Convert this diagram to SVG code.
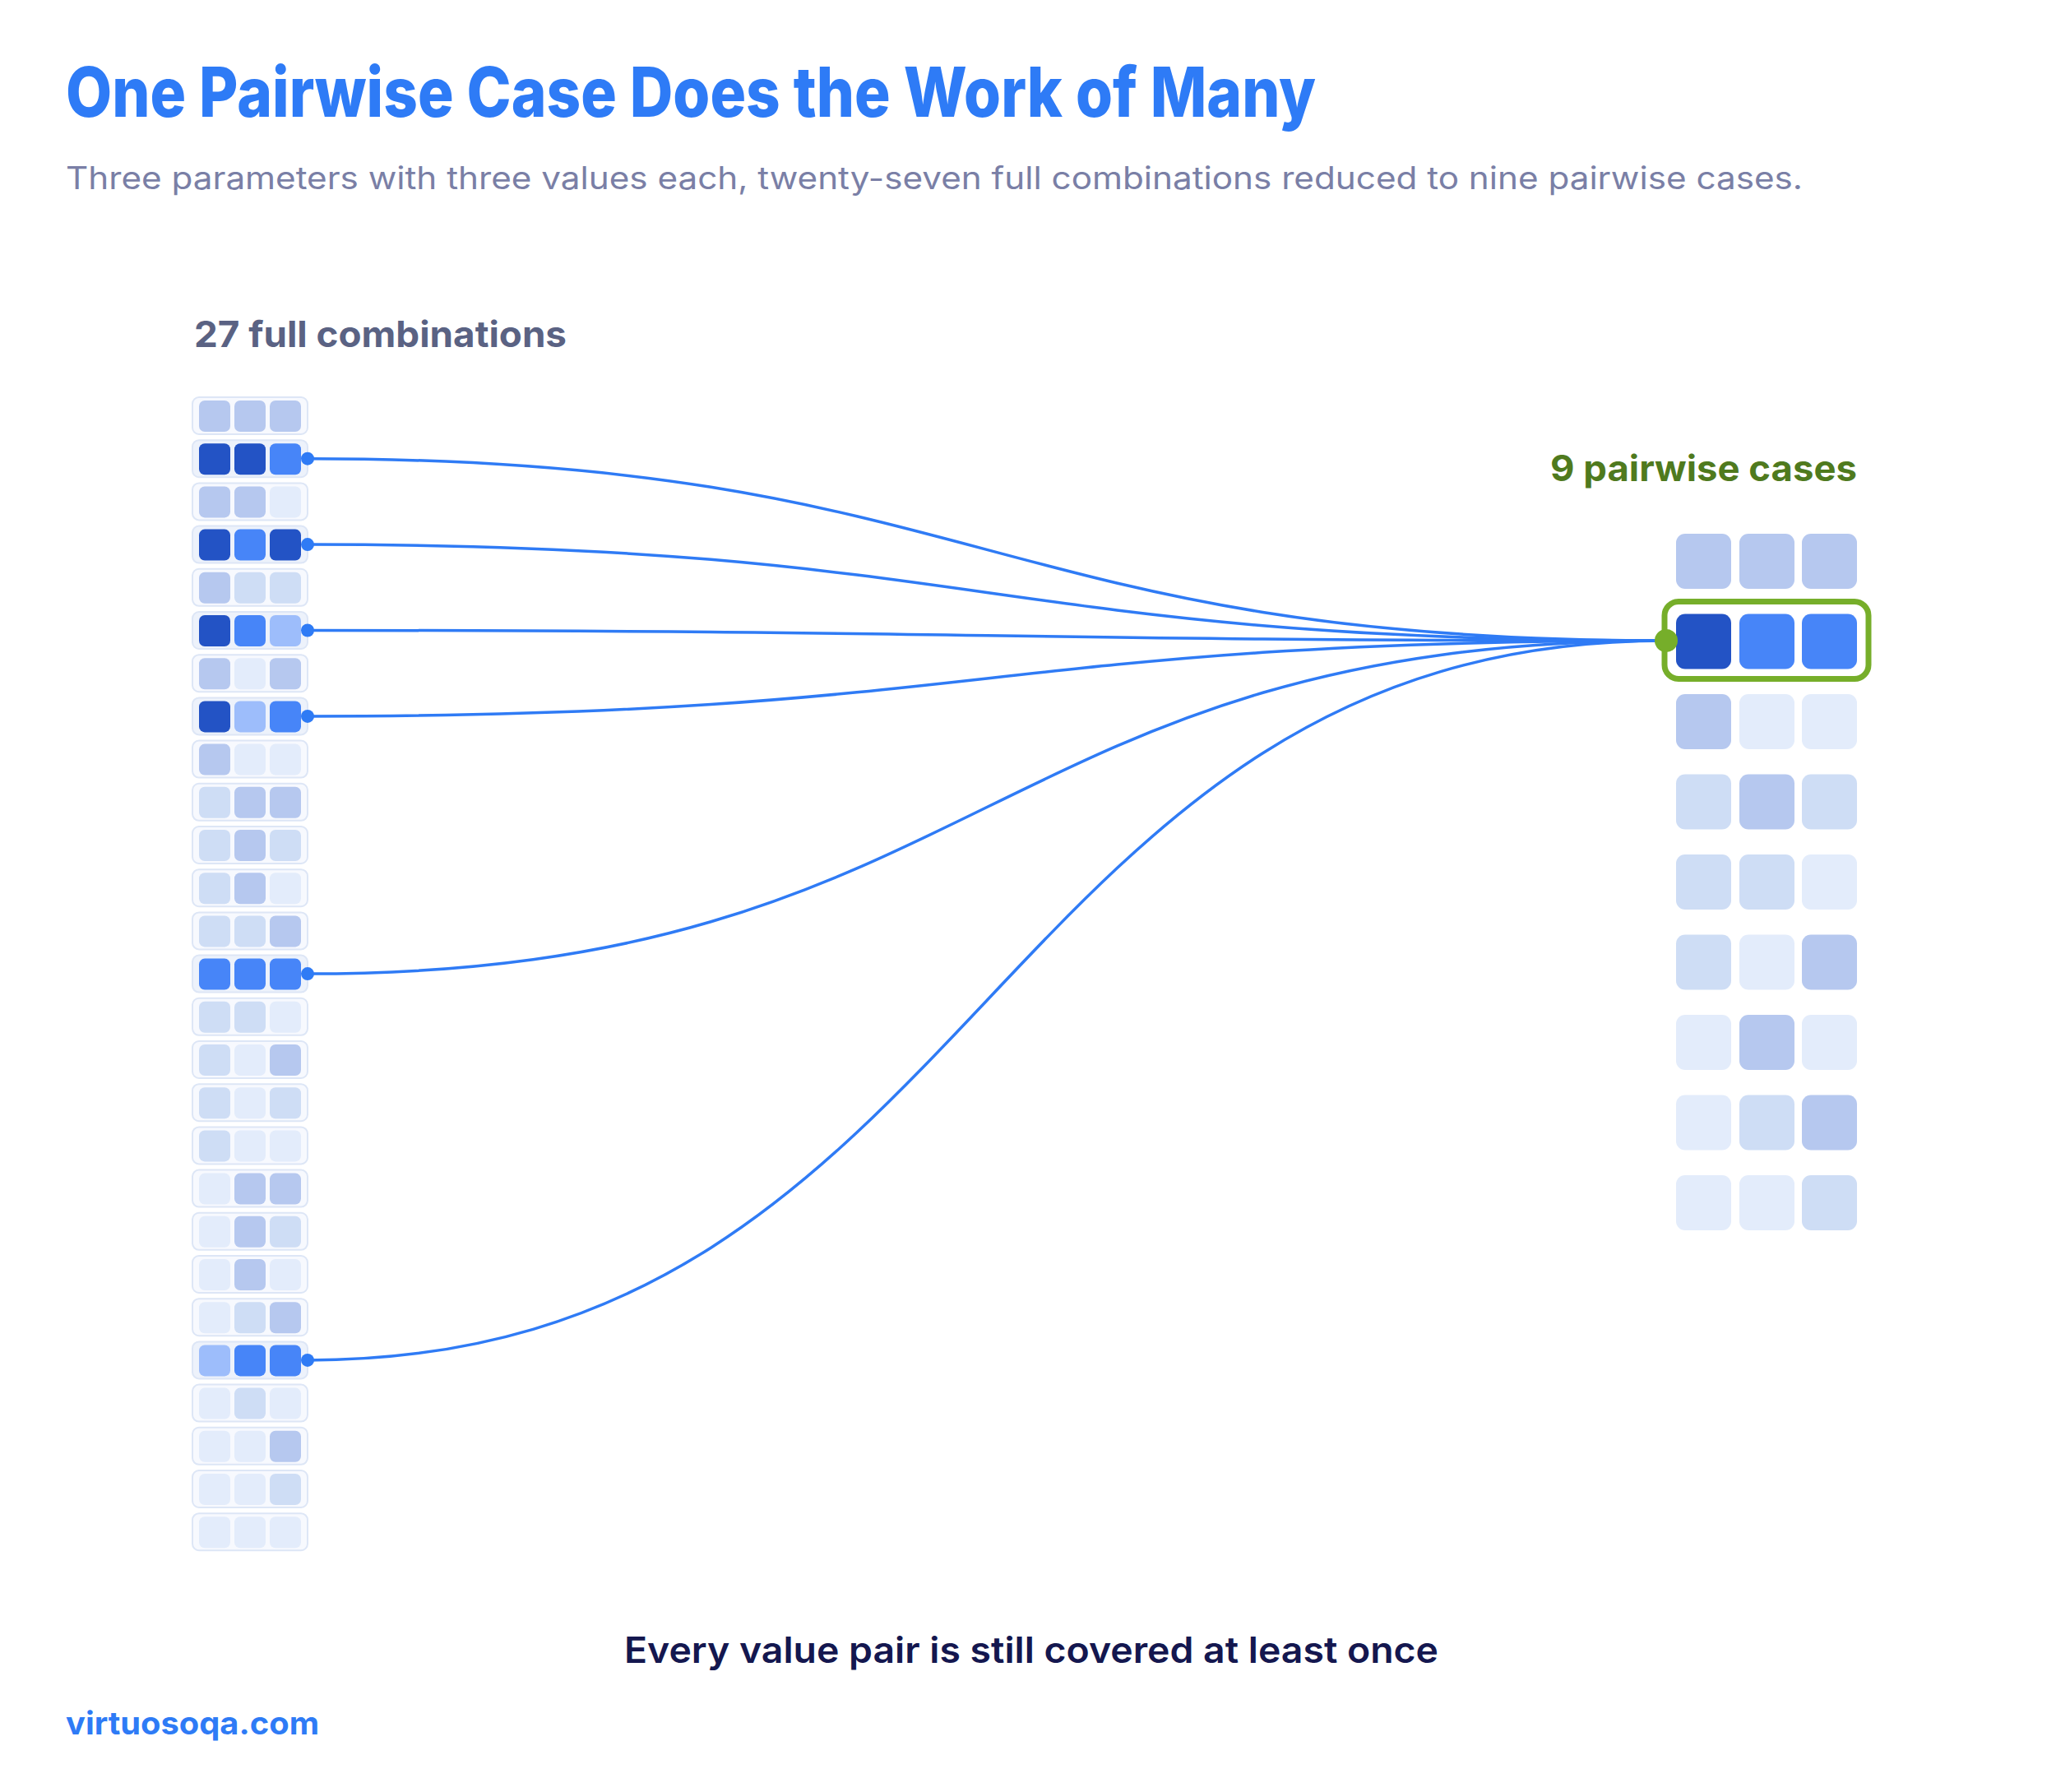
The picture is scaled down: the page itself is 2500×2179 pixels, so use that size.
<svg xmlns="http://www.w3.org/2000/svg" width="2500" height="2179" viewBox="0 0 2500 2179">
<style>
.t{font-family:Inter,"Liberation Sans",sans-serif}
.D{fill:#2353C5}.M{fill:#4785F8}.P{fill:#9DBDFB}.c3{fill:#B6C8EF}.c2{fill:#CEDDF5}.c1{fill:#E3ECFB}
.fr{fill:#F7F9FE;stroke:#DDE6F6;stroke-width:2}
.frh{fill:#EDF2FB;stroke:#DDE6F6;stroke-width:2}
.con{fill:none;stroke:#2F7BF5;stroke-width:3.5}
.dot{fill:#2F7BF5}
</style>
<rect width="2500" height="2179" fill="#fff"/>
<text class="t" x="80" y="142" font-size="84" font-weight="800" fill="#2E7BF6" textLength="1520" lengthAdjust="spacingAndGlyphs">One Pairwise Case Does the Work of Many</text>
<text class="t" x="80" y="230" font-size="38" fill="#7A7FA6" textLength="2112" lengthAdjust="spacingAndGlyphs">Three parameters with three values each, twenty-seven full combinations reduced to nine pairwise cases.</text>
<text class="t" x="236" y="422" font-size="44" font-weight="700" fill="#5A6283" textLength="453" lengthAdjust="spacingAndGlyphs">27 full combinations</text>
<text class="t" x="1885" y="585" font-size="44" font-weight="700" fill="#4F7A1E" textLength="373" lengthAdjust="spacingAndGlyphs">9 pairwise cases</text>
<g id="connectors">
<path class="con" d="M374,557.7 C1200,557.7 1200,779 2026,779"/>
<path class="con" d="M374,662.1 C1200,662.1 1200,779 2026,779"/>
<path class="con" d="M374,766.5 C1200,766.5 1200,779 2026,779"/>
<path class="con" d="M374,870.9 C1200,870.9 1200,779 2026,779"/>
<path class="con" d="M374,1184.1 C1200,1184.1 1200,779 2026,779"/>
<path class="con" d="M374,1653.9 C1200,1653.9 1200,779 2026,779"/>
</g>
<g id="full">
<g id="f1" transform="translate(0,0)"><rect class="fr" x="234" y="483" width="140" height="45" rx="8"/><rect class="c3" x="242" y="487" width="38" height="38" rx="7"/><rect class="c3" x="285" y="487" width="38" height="38" rx="7"/><rect class="c3" x="328" y="487" width="38" height="38" rx="7"/></g>
<g id="f2" transform="translate(0,52.2)"><rect class="frh" x="234" y="483" width="140" height="45" rx="8"/><rect class="D" x="242" y="487" width="38" height="38" rx="7"/><rect class="D" x="285" y="487" width="38" height="38" rx="7"/><rect class="M" x="328" y="487" width="38" height="38" rx="7"/><circle class="dot" cx="374" cy="505.5" r="8"/></g>
<g id="f3" transform="translate(0,104.4)"><rect class="fr" x="234" y="483" width="140" height="45" rx="8"/><rect class="c3" x="242" y="487" width="38" height="38" rx="7"/><rect class="c3" x="285" y="487" width="38" height="38" rx="7"/><rect class="c1" x="328" y="487" width="38" height="38" rx="7"/></g>
<g id="f4" transform="translate(0,156.6)"><rect class="frh" x="234" y="483" width="140" height="45" rx="8"/><rect class="D" x="242" y="487" width="38" height="38" rx="7"/><rect class="M" x="285" y="487" width="38" height="38" rx="7"/><rect class="D" x="328" y="487" width="38" height="38" rx="7"/><circle class="dot" cx="374" cy="505.5" r="8"/></g>
<g id="f5" transform="translate(0,208.8)"><rect class="fr" x="234" y="483" width="140" height="45" rx="8"/><rect class="c3" x="242" y="487" width="38" height="38" rx="7"/><rect class="c2" x="285" y="487" width="38" height="38" rx="7"/><rect class="c2" x="328" y="487" width="38" height="38" rx="7"/></g>
<g id="f6" transform="translate(0,261)"><rect class="frh" x="234" y="483" width="140" height="45" rx="8"/><rect class="D" x="242" y="487" width="38" height="38" rx="7"/><rect class="M" x="285" y="487" width="38" height="38" rx="7"/><rect class="P" x="328" y="487" width="38" height="38" rx="7"/><circle class="dot" cx="374" cy="505.5" r="8"/></g>
<g id="f7" transform="translate(0,313.2)"><rect class="fr" x="234" y="483" width="140" height="45" rx="8"/><rect class="c3" x="242" y="487" width="38" height="38" rx="7"/><rect class="c1" x="285" y="487" width="38" height="38" rx="7"/><rect class="c3" x="328" y="487" width="38" height="38" rx="7"/></g>
<g id="f8" transform="translate(0,365.4)"><rect class="frh" x="234" y="483" width="140" height="45" rx="8"/><rect class="D" x="242" y="487" width="38" height="38" rx="7"/><rect class="P" x="285" y="487" width="38" height="38" rx="7"/><rect class="M" x="328" y="487" width="38" height="38" rx="7"/><circle class="dot" cx="374" cy="505.5" r="8"/></g>
<g id="f9" transform="translate(0,417.6)"><rect class="fr" x="234" y="483" width="140" height="45" rx="8"/><rect class="c3" x="242" y="487" width="38" height="38" rx="7"/><rect class="c1" x="285" y="487" width="38" height="38" rx="7"/><rect class="c1" x="328" y="487" width="38" height="38" rx="7"/></g>
<g id="f10" transform="translate(0,469.8)"><rect class="fr" x="234" y="483" width="140" height="45" rx="8"/><rect class="c2" x="242" y="487" width="38" height="38" rx="7"/><rect class="c3" x="285" y="487" width="38" height="38" rx="7"/><rect class="c3" x="328" y="487" width="38" height="38" rx="7"/></g>
<g id="f11" transform="translate(0,522)"><rect class="fr" x="234" y="483" width="140" height="45" rx="8"/><rect class="c2" x="242" y="487" width="38" height="38" rx="7"/><rect class="c3" x="285" y="487" width="38" height="38" rx="7"/><rect class="c2" x="328" y="487" width="38" height="38" rx="7"/></g>
<g id="f12" transform="translate(0,574.2)"><rect class="fr" x="234" y="483" width="140" height="45" rx="8"/><rect class="c2" x="242" y="487" width="38" height="38" rx="7"/><rect class="c3" x="285" y="487" width="38" height="38" rx="7"/><rect class="c1" x="328" y="487" width="38" height="38" rx="7"/></g>
<g id="f13" transform="translate(0,626.4)"><rect class="fr" x="234" y="483" width="140" height="45" rx="8"/><rect class="c2" x="242" y="487" width="38" height="38" rx="7"/><rect class="c2" x="285" y="487" width="38" height="38" rx="7"/><rect class="c3" x="328" y="487" width="38" height="38" rx="7"/></g>
<g id="f14" transform="translate(0,678.6)"><rect class="frh" x="234" y="483" width="140" height="45" rx="8"/><rect class="M" x="242" y="487" width="38" height="38" rx="7"/><rect class="M" x="285" y="487" width="38" height="38" rx="7"/><rect class="M" x="328" y="487" width="38" height="38" rx="7"/><circle class="dot" cx="374" cy="505.5" r="8"/></g>
<g id="f15" transform="translate(0,730.8)"><rect class="fr" x="234" y="483" width="140" height="45" rx="8"/><rect class="c2" x="242" y="487" width="38" height="38" rx="7"/><rect class="c2" x="285" y="487" width="38" height="38" rx="7"/><rect class="c1" x="328" y="487" width="38" height="38" rx="7"/></g>
<g id="f16" transform="translate(0,783)"><rect class="fr" x="234" y="483" width="140" height="45" rx="8"/><rect class="c2" x="242" y="487" width="38" height="38" rx="7"/><rect class="c1" x="285" y="487" width="38" height="38" rx="7"/><rect class="c3" x="328" y="487" width="38" height="38" rx="7"/></g>
<g id="f17" transform="translate(0,835.2)"><rect class="fr" x="234" y="483" width="140" height="45" rx="8"/><rect class="c2" x="242" y="487" width="38" height="38" rx="7"/><rect class="c1" x="285" y="487" width="38" height="38" rx="7"/><rect class="c2" x="328" y="487" width="38" height="38" rx="7"/></g>
<g id="f18" transform="translate(0,887.4)"><rect class="fr" x="234" y="483" width="140" height="45" rx="8"/><rect class="c2" x="242" y="487" width="38" height="38" rx="7"/><rect class="c1" x="285" y="487" width="38" height="38" rx="7"/><rect class="c1" x="328" y="487" width="38" height="38" rx="7"/></g>
<g id="f19" transform="translate(0,939.6)"><rect class="fr" x="234" y="483" width="140" height="45" rx="8"/><rect class="c1" x="242" y="487" width="38" height="38" rx="7"/><rect class="c3" x="285" y="487" width="38" height="38" rx="7"/><rect class="c3" x="328" y="487" width="38" height="38" rx="7"/></g>
<g id="f20" transform="translate(0,991.8)"><rect class="fr" x="234" y="483" width="140" height="45" rx="8"/><rect class="c1" x="242" y="487" width="38" height="38" rx="7"/><rect class="c3" x="285" y="487" width="38" height="38" rx="7"/><rect class="c2" x="328" y="487" width="38" height="38" rx="7"/></g>
<g id="f21" transform="translate(0,1044)"><rect class="fr" x="234" y="483" width="140" height="45" rx="8"/><rect class="c1" x="242" y="487" width="38" height="38" rx="7"/><rect class="c3" x="285" y="487" width="38" height="38" rx="7"/><rect class="c1" x="328" y="487" width="38" height="38" rx="7"/></g>
<g id="f22" transform="translate(0,1096.2)"><rect class="fr" x="234" y="483" width="140" height="45" rx="8"/><rect class="c1" x="242" y="487" width="38" height="38" rx="7"/><rect class="c2" x="285" y="487" width="38" height="38" rx="7"/><rect class="c3" x="328" y="487" width="38" height="38" rx="7"/></g>
<g id="f23" transform="translate(0,1148.4)"><rect class="frh" x="234" y="483" width="140" height="45" rx="8"/><rect class="P" x="242" y="487" width="38" height="38" rx="7"/><rect class="M" x="285" y="487" width="38" height="38" rx="7"/><rect class="M" x="328" y="487" width="38" height="38" rx="7"/><circle class="dot" cx="374" cy="505.5" r="8"/></g>
<g id="f24" transform="translate(0,1200.6)"><rect class="fr" x="234" y="483" width="140" height="45" rx="8"/><rect class="c1" x="242" y="487" width="38" height="38" rx="7"/><rect class="c2" x="285" y="487" width="38" height="38" rx="7"/><rect class="c1" x="328" y="487" width="38" height="38" rx="7"/></g>
<g id="f25" transform="translate(0,1252.8)"><rect class="fr" x="234" y="483" width="140" height="45" rx="8"/><rect class="c1" x="242" y="487" width="38" height="38" rx="7"/><rect class="c1" x="285" y="487" width="38" height="38" rx="7"/><rect class="c3" x="328" y="487" width="38" height="38" rx="7"/></g>
<g id="f26" transform="translate(0,1305)"><rect class="fr" x="234" y="483" width="140" height="45" rx="8"/><rect class="c1" x="242" y="487" width="38" height="38" rx="7"/><rect class="c1" x="285" y="487" width="38" height="38" rx="7"/><rect class="c2" x="328" y="487" width="38" height="38" rx="7"/></g>
<g id="f27" transform="translate(0,1357.2)"><rect class="fr" x="234" y="483" width="140" height="45" rx="8"/><rect class="c1" x="242" y="487" width="38" height="38" rx="7"/><rect class="c1" x="285" y="487" width="38" height="38" rx="7"/><rect class="c1" x="328" y="487" width="38" height="38" rx="7"/></g>
</g>
<g id="pairwise">
<g id="p1" transform="translate(0,0)"><rect class="c3" x="2038" y="649" width="67" height="67" rx="11"/><rect class="c3" x="2115" y="649" width="67" height="67" rx="11"/><rect class="c3" x="2191" y="649" width="67" height="67" rx="11"/></g>
<g id="p2" transform="translate(0,97.5)"><rect x="2024" y="634" width="248" height="94" rx="17" fill="none" stroke="#76AE2A" stroke-width="7"/><rect class="D" x="2038" y="649" width="67" height="67" rx="11"/><rect class="M" x="2115" y="649" width="67" height="67" rx="11"/><rect class="M" x="2191" y="649" width="67" height="67" rx="11"/><circle cx="2026" cy="681.5" r="14" fill="#76AE2A"/></g>
<g id="p3" transform="translate(0,195)"><rect class="c3" x="2038" y="649" width="67" height="67" rx="11"/><rect class="c1" x="2115" y="649" width="67" height="67" rx="11"/><rect class="c1" x="2191" y="649" width="67" height="67" rx="11"/></g>
<g id="p4" transform="translate(0,292.5)"><rect class="c2" x="2038" y="649" width="67" height="67" rx="11"/><rect class="c3" x="2115" y="649" width="67" height="67" rx="11"/><rect class="c2" x="2191" y="649" width="67" height="67" rx="11"/></g>
<g id="p5" transform="translate(0,390)"><rect class="c2" x="2038" y="649" width="67" height="67" rx="11"/><rect class="c2" x="2115" y="649" width="67" height="67" rx="11"/><rect class="c1" x="2191" y="649" width="67" height="67" rx="11"/></g>
<g id="p6" transform="translate(0,487.5)"><rect class="c2" x="2038" y="649" width="67" height="67" rx="11"/><rect class="c1" x="2115" y="649" width="67" height="67" rx="11"/><rect class="c3" x="2191" y="649" width="67" height="67" rx="11"/></g>
<g id="p7" transform="translate(0,585)"><rect class="c1" x="2038" y="649" width="67" height="67" rx="11"/><rect class="c3" x="2115" y="649" width="67" height="67" rx="11"/><rect class="c1" x="2191" y="649" width="67" height="67" rx="11"/></g>
<g id="p8" transform="translate(0,682.5)"><rect class="c1" x="2038" y="649" width="67" height="67" rx="11"/><rect class="c2" x="2115" y="649" width="67" height="67" rx="11"/><rect class="c3" x="2191" y="649" width="67" height="67" rx="11"/></g>
<g id="p9" transform="translate(0,780)"><rect class="c1" x="2038" y="649" width="67" height="67" rx="11"/><rect class="c1" x="2115" y="649" width="67" height="67" rx="11"/><rect class="c2" x="2191" y="649" width="67" height="67" rx="11"/></g>
</g>
<text class="t" x="1254" y="2022" font-size="44" font-weight="600" fill="#14174F" text-anchor="middle" textLength="990" lengthAdjust="spacingAndGlyphs">Every value pair is still covered at least once</text>
<text class="t" x="80" y="2109" font-size="38" font-weight="700" fill="#2E7BF6" textLength="308" lengthAdjust="spacingAndGlyphs">virtuosoqa.com</text>
</svg>
